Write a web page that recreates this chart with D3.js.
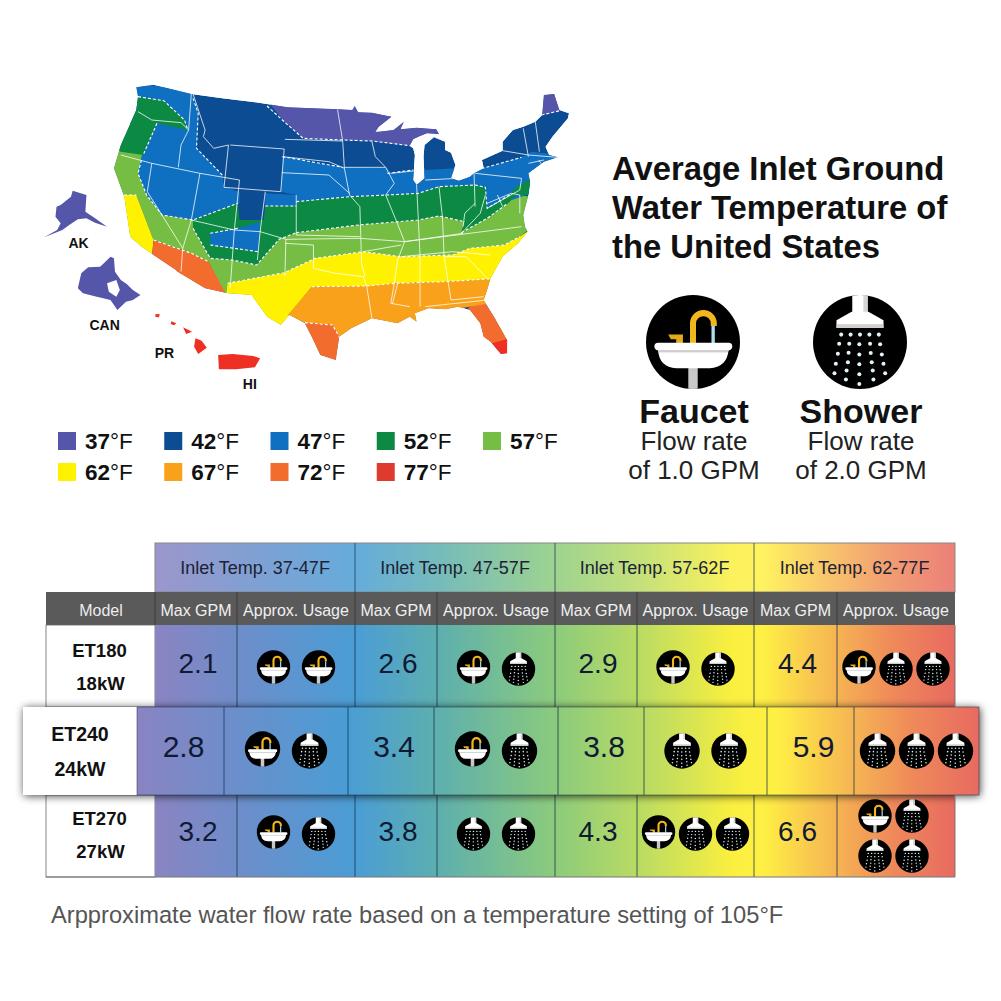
<!DOCTYPE html>
<html lang="en">
  <head>
    <meta charset="UTF-8" />
    <title>Average Inlet Ground Water Temperature</title>
    <style>
      html, body { margin: 0; padding: 0; background: #fff; }
      svg { display: block; }
      text { font-family: "Liberation Sans", Arial, sans-serif; }
    </style>
  </head>
  <body>
    <div id="chart"></div>
    <script src="https://d3js.org/d3.v7.min.js"></script>
    <script>
      // ---- legend ----
      const legendTemps = [37, 42, 47, 52, 57, 62, 67, 72, 77];
      const legendColors = ["#5556a9", "#0b4c92", "#0f70c2", "#0c8a44", "#76bd43", "#fff200", "#f9a11b", "#f26c2d", "#de3a2e"];
      const mapRed = "#ee2f24";

      // ---- table ----
      const models = ["ET180", "ET240", "ET270"];
      const powers = ["18kW", "24kW", "27kW"];
      const tempRanges = ["Inlet Temp. 37-47F", "Inlet Temp. 47-57F", "Inlet Temp. 57-62F", "Inlet Temp. 62-77F"];
      const maxGpm = [
        [2.1, 2.6, 2.9, 4.4],
        [2.8, 3.4, 3.8, 5.9],
        [3.2, 3.8, 4.3, 6.6],
      ];
      // F = faucet, S = shower
      const usage = [
        ["FF", "FS", "FS", "FSS"],
        ["FS", "FS", "SS", "SSS"],
        ["FS", "SS", "FSS", "FSSS"],
      ];

      // ---- map, in map units ----
      const usOutline = [[280,22],[330,14],[440,42],[530,55],[620,66],[720,82],[868,88],[908,90],[915,78],[925,97],[965,98],[1022,110],[985,140],[975,155],[985,155],[1028,150],[1058,125],[1048,148],[1095,143],[1152,148],[1160,162],[1125,160],[1100,170],[1085,178],[1075,197],[1085,205],[1090,225],[1085,300],[1095,315],[1118,295],[1115,230],[1118,195],[1145,172],[1178,185],[1178,210],[1195,218],[1208,255],[1195,295],[1218,302],[1250,290],[1262,280],[1290,265],[1285,240],[1345,212],[1345,185],[1375,150],[1405,140],[1440,125],[1460,105],[1465,45],[1495,42],[1510,90],[1538,100],[1535,115],[1490,170],[1470,200],[1480,225],[1505,232],[1465,245],[1420,280],[1425,305],[1420,345],[1405,405],[1410,440],[1418,455],[1390,490],[1345,530],[1310,595],[1300,630],[1290,660],[1320,710],[1358,780],[1358,820],[1340,822],[1310,785],[1290,770],[1280,730],[1250,690],[1215,680],[1180,688],[1130,685],[1090,700],[1095,725],[1075,710],[1040,730],[965,715],[905,745],[870,770],[860,840],[815,825],[790,770],[770,730],[725,705],[700,735],[660,710],[615,645],[545,640],[480,625],[400,575],[395,570],[330,525],[295,500],[262,470],[245,350],[215,265],[235,195],[280,90],[285,50]];

      const zone37 = [
        [[660,60],[1200,60],[1200,190],[1120,165],[1075,197],[965,183],[880,180],[765,175],[710,125]],
        [[1455,30],[1515,30],[1512,92],[1458,107]],
      ];
      const zone47 = [
        [[260,10],[445,30],[445,55],[460,100],[455,205],[530,285],[535,320],[580,335],[580,370],[445,420],[355,405],[310,345],[285,280],[295,230],[330,135],[200,130]],
        [[705,230],[880,262],[1010,265],[1020,280],[1085,270],[1120,270],[1208,265],[1270,270],[1400,232],[1430,215],[1515,225],[1480,260],[1430,340],[1300,385],[1295,322],[1265,315],[1160,320],[1100,340],[1010,345],[900,350],[745,365],[745,345],[700,335]],
        [[655,340],[745,345],[745,378],[655,378]],
      ];
      const zone52 = [
        [[285,50],[360,62],[420,120],[430,150],[340,130],[300,225],[235,215],[200,200],[260,60]],
        [[445,420],[575,370],[580,420],[650,420],[655,378],[745,378],[745,365],[900,350],[1010,345],[1100,340],[1160,320],[1265,315],[1295,322],[1300,385],[1365,345],[1385,320],[1430,295],[1430,345],[1385,345],[1360,370],[1300,415],[1225,458],[1235,425],[1160,408],[1100,420],[1040,425],[925,435],[745,458],[695,478],[630,555],[560,540],[495,535],[445,445]],
      ];
      const zone47Inner = [[[495,460],[575,445],[640,425],[635,515],[495,495]]];
      const zone57 = [
        [[190,190],[310,210],[295,240],[285,280],[310,345],[355,405],[445,420],[445,445],[495,535],[560,540],[630,555],[695,478],[745,458],[925,435],[1040,425],[1100,420],[1160,408],[1235,425],[1225,458],[1300,415],[1360,370],[1385,345],[1430,350],[1430,440],[1395,470],[1350,495],[1250,505],[1200,525],[1050,530],[940,515],[800,535],[710,578],[545,610],[540,650],[490,545],[440,520],[330,480],[280,345],[230,345],[190,300]],
      ];
      const zone62 = [
        [[190,345],[280,345],[330,480],[325,535],[190,480]],
        [[545,610],[710,578],[800,535],[940,515],[1050,530],[1200,525],[1250,505],[1350,495],[1395,470],[1430,445],[1400,500],[1345,540],[1310,598],[1180,605],[1030,610],[950,620],[790,620],[725,705],[700,745],[650,720],[600,655],[540,650]],
      ];
      const zone67 = [
        [[790,620],[950,618],[1030,610],[1180,605],[1315,596],[1300,650],[1295,680],[1250,680],[1130,700],[1100,740],[1000,740],[870,770],[850,735],[770,728],[720,705]],
      ];
      const zone72 = [
        [[330,480],[440,520],[490,545],[545,650],[480,640],[400,590],[325,535]],
        [[770,728],[850,735],[870,770],[870,850],[800,835],[760,740]],
        [[1250,680],[1295,672],[1375,785],[1315,790],[1300,800],[1265,750],[1235,695]],
      ];
      const zone77 = [[[1315,790],[1365,775],[1365,835],[1330,835],[1300,800]]];

      const zoneLines = [
        [[285,50],[360,62],[420,120],[430,150]],
        [[340,130],[300,225]],
        [[295,240],[285,280],[310,345],[355,405],[445,420],[575,370]],
        [[445,55],[460,100],[455,205],[530,285]],
        [[660,78],[710,125],[765,175],[880,180],[965,183],[1075,197]],
        [[705,230],[880,262]],
        [[1010,280],[1085,270]],
        [[1270,270],[1400,232]],
        [[745,365],[900,350],[1010,345],[1100,340],[1160,320],[1265,315],[1295,322],[1300,385],[1365,345]],
        [[655,378],[745,378]],
        [[745,458],[925,435],[1040,425],[1100,420],[1160,408],[1235,425]],
        [[1225,458],[1300,415],[1360,370]],
        [[495,460],[575,445]],
        [[495,495],[635,515]],
        [[1458,105],[1512,92]],
        [[445,445],[495,535],[560,540],[630,555],[695,478],[745,458]],
        [[545,610],[710,578],[800,535],[940,515],[1050,530],[1200,525],[1250,505],[1350,495],[1395,470]],
        [[790,620],[950,618],[1030,610],[1180,605],[1315,596]],
        [[770,728],[850,735],[870,770]],
        [[330,480],[440,520],[490,545]],
        [[230,345],[280,345]],
      ];

      const stateLines = [
        [[285,95],[325,120],[410,128],[432,150]],
        [[440,42],[432,150],[410,195],[402,262]],
        [[235,225],[325,250],[465,280],[580,300]],
        [[445,42],[480,150],[475,170],[505,205],[548,195]],
        [[325,250],[312,335],[415,505]],
        [[465,280],[440,420],[415,505],[410,575]],
        [[580,300],[565,450],[553,625]],
        [[553,195],[710,207],[700,335],[535,322],[548,195]],
        [[440,420],[565,450],[640,455],[715,478],[930,475],[1060,485],[1400,440]],
        [[655,335],[640,455],[632,540]],
        [[715,478],[712,590]],
        [[712,490],[795,495],[795,565],[860,580],[940,590],[950,620],[965,715]],
        [[712,178],[880,183]],
        [[705,230],[840,245],[885,265]],
        [[865,88],[880,183],[885,265],[900,345],[930,380],[935,550],[945,590]],
        [[703,278],[840,285],[900,340]],
        [[745,345],[745,465]],
        [[745,465],[930,470]],
        [[885,262],[1005,262],[1030,310],[1005,345],[1035,420],[1060,485],[1040,540],[1030,610],[1020,670],[1075,680]],
        [[965,185],[975,230],[1005,262]],
        [[1020,280],[1095,272]],
        [[1095,315],[1100,420],[1105,530],[1105,680]],
        [[1160,320],[1170,410],[1175,530],[1195,660],[1290,650]],
        [[1120,300],[1215,295]],
        [[1262,280],[1265,380]],
        [[1265,280],[1400,295],[1395,330],[1300,385]],
        [[1265,370],[1235,400],[1230,440]],
        [[1295,345],[1280,400],[1225,460]],
        [[1060,485],[1230,460]],
        [[940,515],[1050,495]],
        [[1050,530],[1200,515],[1310,525]],
        [[1175,530],[1240,530],[1300,595]],
        [[1040,610],[1025,670]],
        [[1120,680],[1300,660]],
        [[1405,145],[1420,230]],
        [[1440,125],[1452,215]],
        [[1345,212],[1420,225],[1505,232]],
        [[1420,250],[1465,240]],
        [[1450,240],[1460,255]],
        [[1300,370],[1370,340],[1395,345],[1395,400]],
        [[1330,345],[1345,380]],
      ];

      const alaska = [[48,380],[60,375],[90,350],[95,332],[135,345],[132,395],[160,415],[195,440],[160,428],[135,415],[110,418],[85,435],[65,450],[12,472],[50,450],[60,430],[45,410]];
      const canada = [[110,625],[120,580],[140,562],[175,560],[190,545],[205,530],[215,535],[218,575],[235,600],[252,612],[270,630],[292,645],[270,660],[250,665],[225,690],[205,660],[165,650],[125,640]];
      const canadaGap = [[195,610],[222,600],[232,630],[222,650],[200,635]];
      const hawaii = [
        [[335,703],[348,702],[346,712],[336,711]],
        [[382,724],[396,730],[390,736],[380,732]],
        [[416,742],[442,755],[425,762]],
        [[452,775],[470,782],[485,803],[460,822],[448,800]],
      ];
      const puertoRico = [[518,825],[560,822],[620,828],[640,835],[625,862],[570,868],[520,868]];
      const mapLabels = ["AK", "CAN", "PR", "HI"];
      const mapLabelSpots = [[112,490],[188,736],[362,818],[610,913]];

      // ---- drawing ----
      const svg = d3.select("#chart").append("svg").attr("width", 1001).attr("height", 1001);
      const defs = svg.append("defs");

      const mapX = d3.scaleLinear().domain([0, 1570]).range([40, 580]);
      const mapY = d3.scaleLinear().domain([0, 990]).range([80, 410]);
      const mapLine = d3.line().x((d) => mapX(d[0])).y((d) => mapY(d[1]));
      const closed = (pts) => mapLine(pts) + "Z";

      defs.append("clipPath").attr("id", "us-clip").append("path").attr("d", closed(usOutline));

      const map = svg.append("g");
      const zones = map.append("g").attr("clip-path", "url(#us-clip)");
      zones.append("path").attr("d", closed(usOutline)).attr("fill", legendColors[1]);

      function drawZone(shapes, color) {
        zones.append("g").selectAll("path").data(shapes).enter().append("path")
          .attr("d", closed).attr("fill", color);
      }
      drawZone(zone57, legendColors[4]);
      drawZone(zone37, legendColors[0]);
      drawZone(zone47, legendColors[2]);
      drawZone(zone52, legendColors[3]);
      drawZone(zone47Inner, legendColors[2]);
      drawZone(zone62, legendColors[5]);
      drawZone(zone67, legendColors[6]);
      drawZone(zone72, legendColors[7]);
      drawZone(zone77, mapRed);

      zones.append("g").selectAll("path").data(stateLines).enter().append("path")
        .attr("d", mapLine).attr("fill", "none").attr("stroke", "#fff")
        .attr("stroke-opacity", 0.85).attr("stroke-width", 0.9);
      zones.append("g").selectAll("path").data(zoneLines).enter().append("path")
        .attr("d", mapLine).attr("fill", "none").attr("stroke", "#fff")
        .attr("stroke-width", 1.1).attr("stroke-dasharray", "3 2");

      map.append("path").attr("d", closed(alaska)).attr("fill", legendColors[0]);
      map.append("path").attr("d", closed(canada)).attr("fill", legendColors[0]);
      map.append("path").attr("d", closed(canadaGap)).attr("fill", "#fff");
      map.append("g").selectAll("path").data(hawaii).enter().append("path")
        .attr("d", closed).attr("fill", mapRed);
      map.append("path").attr("d", closed(puertoRico)).attr("fill", mapRed);

      map.append("g").selectAll("text").data(mapLabels).enter().append("text")
        .attr("x", (d, i) => mapX(mapLabelSpots[i][0]))
        .attr("y", (d, i) => mapY(mapLabelSpots[i][1]) + 5)
        .attr("text-anchor", "middle").attr("font-size", 14).attr("font-weight", 700)
        .attr("fill", "#111").text((d) => d);

      // legend
      const legendCol = d3.scalePoint().domain(d3.range(5)).range([58, 483]);
      const legendRow = d3.scalePoint().domain([0, 1]).range([441, 472]);
      const legend = svg.append("g").selectAll("g").data(legendTemps).enter().append("g")
        .attr("transform", (d, i) => `translate(${legendCol(i % 5)},${legendRow(Math.floor(i / 5))})`);
      legend.append("rect").attr("y", -9).attr("width", 18).attr("height", 18)
        .attr("fill", (d, i) => legendColors[i]);
      const legendText = legend.append("text").attr("x", 27).attr("y", 8).attr("font-size", 22.5).attr("fill", "#111");
      legendText.append("tspan").attr("font-weight", 700).text((d) => d);
      legendText.append("tspan").text("°F");

      // title
      const titleLines = ["Average Inlet Ground", "Water Temperature of", "the United States"];
      svg.append("g").selectAll("text").data(titleLines).enter().append("text")
        .attr("x", 612).attr("y", (d, i) => 180 + i * 39)
        .attr("font-size", 32.8).attr("font-weight", 700).attr("fill", "#111").text((d) => d);

      // icons, drawn in a space where the disc has radius 140
      const showerDrops = [
        [-56,-22],[-28,-22],[0,-22],[28,-22],[56,-22],
        [-62,5],[-32,5],[-2,7],[30,5],[60,7],
        [-66,35],[-34,32],[-2,37],[32,33],[65,37],
        [-72,65],[-36,60],[-2,66],[35,60],[70,65],
        [-76,93],[-40,85],[-2,96],[38,85],[75,93],
        [-42,112],[-2,125],[40,112],
      ];

      const faucetClip = defs.append("clipPath").attr("id", "disc-clip");
      faucetClip.append("circle").attr("r", 140);

      function drawIcon(parent, kind, cx, cy, r) {
        const g = parent.append("g").attr("transform", `translate(${cx},${cy}) scale(${r / 140})`);
        g.append("circle").attr("r", 140).attr("fill", "#000");
        const inner = g.append("g").attr("clip-path", "url(#disc-clip)");
        if (kind === "F") {
          inner.append("rect").attr("x", -14).attr("y", 70).attr("width", 28).attr("height", 75).attr("fill", "#c9c9c9");
          inner.append("rect").attr("x", 55).attr("y", -48).attr("width", 10).attr("height", 52).attr("fill", "#a8e0f0");
          inner.append("path").attr("d", "M0,5 L0,-55 A31,31 0 0 1 62,-55 L62,-48")
            .attr("fill", "none").attr("stroke", "#f2b61e").attr("stroke-width", 18);
          inner.append("path").attr("d", "M-74,-22 L-30,-22 L-30,4 L-50,4 L-50,-8 L-66,-8 Z").attr("fill", "#e6a91a");
          inner.append("path").attr("d", "M-104,2 L106,2 Q117,2 117,13 Q117,24 106,25 Q100,75 50,78 L-50,78 Q-100,75 -104,25 Q-115,24 -115,13 Q-115,2 -104,2 Z").attr("fill", "#fff");
          inner.append("rect").attr("x", -104).attr("y", 24).attr("width", 208).attr("height", 7).attr("fill", "#cfcfcf");
        } else {
          inner.append("rect").attr("x", -23).attr("y", -145).attr("width", 46).attr("height", 65).attr("fill", "#fff");
          inner.append("rect").attr("x", 10).attr("y", -145).attr("width", 12).attr("height", 65).attr("fill", "#d5d5d5");
          inner.append("path").attr("d", "M-25,-90 L-70,-65 L-70,-42 L70,-42 L70,-65 L25,-90 Z").attr("fill", "#fff");
          inner.append("rect").attr("x", -70).attr("y", -53).attr("width", 140).attr("height", 11).attr("fill", "#cfcfcf");
          inner.append("g").selectAll("circle").data(showerDrops).enter().append("circle")
            .attr("cx", (d) => d[0]).attr("cy", (d) => d[1]).attr("r", 6).attr("fill", "#dff4f8");
        }
      }

      // the two big icons with captions
      const bigIcons = [
        { kind: "F", cx: 693, name: "Faucet", rate: "of 1.0 GPM" },
        { kind: "S", cx: 860, name: "Shower", rate: "of 2.0 GPM" },
      ];
      bigIcons.forEach((b) => {
        drawIcon(svg, b.kind, b.cx, 342, 47);
        svg.append("text").attr("x", b.cx + 1).attr("y", 423).attr("text-anchor", "middle")
          .attr("font-size", 34).attr("font-weight", 700).attr("fill", "#111").text(b.name);
        svg.append("text").attr("x", b.cx + 1).attr("y", 450).attr("text-anchor", "middle")
          .attr("font-size", 26).attr("fill", "#222").text("Flow rate");
        svg.append("text").attr("x", b.cx + 1).attr("y", 479).attr("text-anchor", "middle")
          .attr("font-size", 26).attr("fill", "#222").text(b.rate);
      });

      // table gradients
      const stopOffsets = [0, 0.12, 0.25, 0.35, 0.5, 0.61, 0.72, 0.76, 0.82, 0.92, 1];
      const stopColors = ["#8a84c2", "#6a8fcb", "#4a9dd5", "#5caeb0", "#8ccb7c", "#bcdc62", "#faef3f", "#fff044", "#f9c84f", "#ef8a5a", "#e86a60"];
      function addGradient(id, x1, x2, opacity) {
        const g = defs.append("linearGradient").attr("id", id)
          .attr("gradientUnits", "userSpaceOnUse").attr("x1", x1).attr("x2", x2).attr("y1", 0).attr("y2", 0);
        stopOffsets.forEach((o, i) => {
          g.append("stop").attr("offset", o).attr("stop-color", stopColors[i]).attr("stop-opacity", opacity);
        });
      }
      addGradient("grad-head", 155, 955, 0.85);
      addGradient("grad-body", 155, 955, 1);
      addGradient("grad-hi", 137, 979, 1);

      const shadow = defs.append("filter").attr("id", "row-shadow")
        .attr("x", "-5%").attr("y", "-30%").attr("width", "110%").attr("height", "160%");
      shadow.append("feDropShadow").attr("dx", 1).attr("dy", 1).attr("stdDeviation", 4)
        .attr("flood-color", "#000").attr("flood-opacity", 0.75);

      const tableEdges = [155, 237, 355, 437, 555, 637, 754, 837, 955];
      const hiEdges = [137, 224, 348, 434, 558, 644, 767, 854, 979];
      const rowY = d3.scaleOrdinal().domain([0, 1, 2]).range([625, 707, 795]);
      const rowH = d3.scaleOrdinal().domain([0, 1, 2]).range([82, 88, 82]);
      const lineColor = "#17324a";
      const table = svg.append("g");

      // temperature header
      table.append("rect").attr("x", 155).attr("y", 543).attr("width", 800).attr("height", 49)
        .attr("fill", "url(#grad-head)").attr("stroke", "#888").attr("stroke-width", 1);
      tempRanges.forEach((t, i) => {
        const x0 = tableEdges[i * 2], x1 = tableEdges[i * 2 + 2];
        table.append("text").attr("x", (x0 + x1) / 2).attr("y", 574).attr("text-anchor", "middle")
          .attr("font-size", 18).attr("fill", "#1c2233").text(t);
        if (i > 0) table.append("line").attr("x1", x0).attr("x2", x0).attr("y1", 543).attr("y2", 592)
          .attr("stroke", lineColor).attr("stroke-opacity", 0.7);
      });

      // grey header
      table.append("rect").attr("x", 46).attr("y", 592).attr("width", 909).attr("height", 33).attr("fill", "#5a5a5a");
      table.append("text").attr("x", 101).attr("y", 616).attr("text-anchor", "middle")
        .attr("font-size", 16).attr("fill", "#ececec").text("Model");
      tableEdges.slice(0, -1).forEach((x0, i) => {
        const x1 = tableEdges[i + 1];
        table.append("text").attr("x", (x0 + x1) / 2).attr("y", 616).attr("text-anchor", "middle")
          .attr("font-size", 16).attr("fill", "#f0f0f0").text(i % 2 ? "Approx. Usage" : "Max GPM");
        table.append("line").attr("x1", x0).attr("x2", x0).attr("y1", 592).attr("y2", 625)
          .attr("stroke", "#2a2a2a").attr("stroke-opacity", 0.6);
      });

      const modelBase = [32, 34, 30];
      const powerBase = [65, 69, 63];
      const gpmBase = [48, 50, 46];
      const iconBase = [42, 42, 37];

      function drawRow(r) {
        const hi = r === 1;
        const edges = hi ? hiEdges : tableEdges;
        const left = hi ? 23 : 46;
        const y = rowY(r), h = rowH(r);
        const g = table.append("g");
        const bg = g.append("g").attr("filter", hi ? "url(#row-shadow)" : null);
        bg.append("rect").attr("x", left).attr("y", y).attr("width", edges[0] - left).attr("height", h)
          .attr("fill", "#fff").attr("stroke", hi ? "none" : "#666").attr("stroke-width", 0.8);
        bg.append("rect").attr("x", edges[0]).attr("y", y).attr("width", edges[8] - edges[0]).attr("height", h)
          .attr("fill", hi ? "url(#grad-hi)" : "url(#grad-body)");
        const mid = (left + edges[0]) / 2;
        g.append("text").attr("x", mid - (hi ? 0 : 1)).attr("y", y + modelBase[r]).attr("text-anchor", "middle")
          .attr("font-size", hi ? 19.5 : 18.5).attr("font-weight", 700).attr("fill", "#111").text(models[r]);
        g.append("text").attr("x", mid).attr("y", y + powerBase[r]).attr("text-anchor", "middle")
          .attr("font-size", hi ? 19.5 : 18.5).attr("font-weight", 700).attr("fill", "#111").text(powers[r]);

        maxGpm[r].forEach((v, c) => {
          const gx0 = edges[c * 2], gx1 = edges[c * 2 + 1], ux1 = edges[c * 2 + 2];
          g.append("text").attr("x", (gx0 + gx1) / 2 + (hi ? 3 : 2)).attr("y", y + gpmBase[r])
            .attr("text-anchor", "middle").attr("font-size", hi ? 30 : 28).attr("fill", "#101a33")
            .text(v.toFixed(1));
          [gx0, gx1].forEach((x) => {
            if (x === edges[0]) return;
            g.append("line").attr("x1", x).attr("x2", x).attr("y1", y).attr("y2", y + h)
              .attr("stroke", lineColor).attr("stroke-opacity", 0.75);
          });
          const kinds = usage[r][c].split("");
          const cx = (gx1 + ux1) / 2;
          const cy = y + iconBase[r];
          const ir = hi ? 17.7 : 16.7;
          const showerDrop = 2;
          if (kinds.length === 4) {
            kinds.forEach((k, i) => {
              drawIcon(g, k, cx - 21 + (i % 2) * 37, y + (i < 2 ? 21 : 61), ir);
            });
          } else {
            const gap = kinds.length === 3 ? (hi ? 39 : 37) : (hi ? 47 : 45);
            kinds.forEach((k, i) => {
              drawIcon(g, k, cx + (i - (kinds.length - 1) / 2) * gap, cy + (k === "S" ? showerDrop : 0), ir);
            });
          }
        });
        if (hi) {
          g.append("rect").attr("x", edges[0]).attr("y", y).attr("width", edges[8] - edges[0]).attr("height", h)
            .attr("fill", "none").attr("stroke", lineColor).attr("stroke-opacity", 0.5);
        }
      }
      [0, 2, 1].forEach(drawRow);

      // outer borders of the plain rows
      table.append("line").attr("x1", 46).attr("x2", 955).attr("y1", 877).attr("y2", 877).attr("stroke", "#777");
      table.append("line").attr("x1", 955).attr("x2", 955).attr("y1", 625).attr("y2", 707).attr("stroke", "#777");
      table.append("line").attr("x1", 955).attr("x2", 955).attr("y1", 795).attr("y2", 877).attr("stroke", "#777");

      svg.append("text").attr("x", 51).attr("y", 923).attr("font-size", 23.7).attr("fill", "#555")
        .text("Arpproximate water flow rate based on a temperature setting of 105°F");
    </script>
  </body>
</html>
